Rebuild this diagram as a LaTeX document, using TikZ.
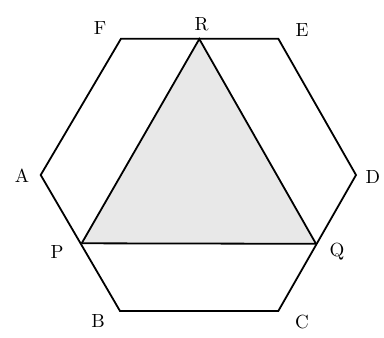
\documentclass[tikz,border=0pt]{standalone}
\begin{document}
\begin{tikzpicture}[x=1pt,y=-1pt,
  edge/.style={line width=1.8pt,line join=miter},
  lbl/.style={scale=1.9,transform shape,inner sep=0pt}]
\useasboundingbox (0,0) rectangle (384,338);
\coordinate (F) at (121,38.7);
\coordinate (E) at (278.3,38.7);
\coordinate (D) at (356,175);
\coordinate (C) at (278.3,311);
\coordinate (B) at (120,311);
\coordinate (A) at (40.7,175);
\coordinate (R) at (199.3,39);
\coordinate (P) at (81.7,243.3);
\coordinate (Q) at (316,243.8);
\fill[gray!18] (P) -- (Q) -- (R) -- cycle;
\draw[edge] (A) -- (F) -- (E) -- (D) -- (C) -- (B) -- cycle;
\draw[edge] (P) -- (R) -- (Q);
\draw[edge] (P) -- (Q);
\node[lbl] (lF) at (100,28) {F};
\node[lbl] (lR) at (201.7,24) {R};
\node[lbl] (lE) at (302,30) {E};
\node[lbl] (lA) at (22,176) {A};
\node[lbl] (lD) at (373,177) {D};
\node[lbl] (lP) at (57,252) {P};
\node[lbl] (lQ) at (337,252) {Q};
\node[lbl] (lB) at (98,321) {B};
\node[lbl] (lC) at (302,322) {C};
\end{tikzpicture}
\end{document}
